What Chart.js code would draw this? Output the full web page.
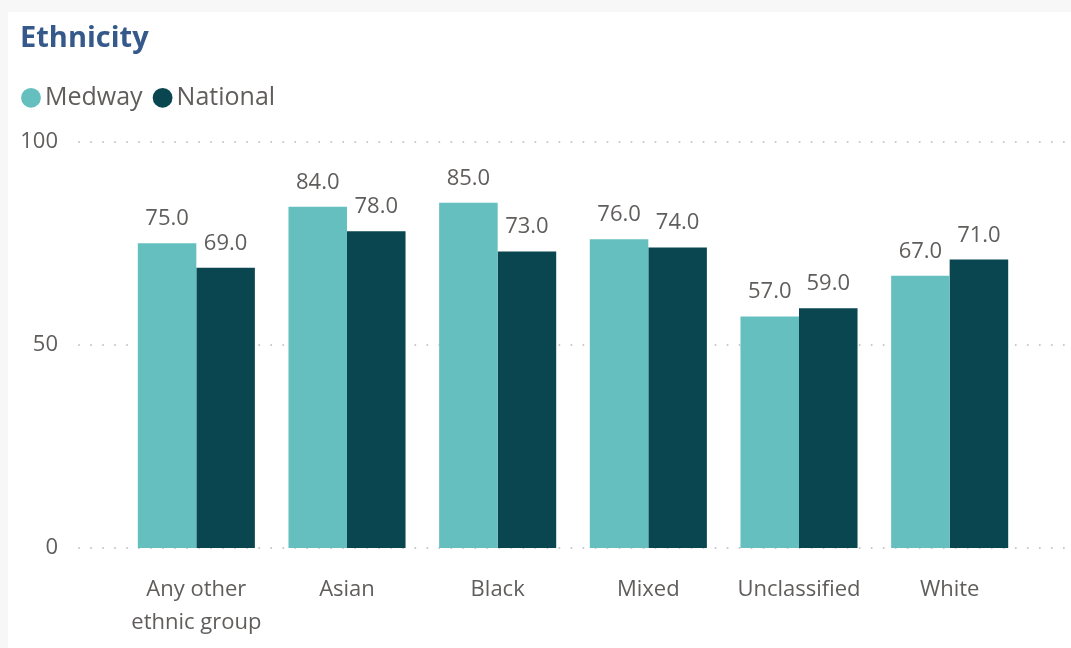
<!DOCTYPE html>
<html>
<head>
<meta charset="utf-8">
<script src="https://cdn.jsdelivr.net/npm/chart.js@4.4.1/dist/chart.umd.min.js"></script>
<style>
  html, body { margin: 0; padding: 0; background: #f7f7f7; width: 1071px; height: 648px; overflow: hidden; }
  #card { position: absolute; left: 8px; top: 12px; width: 1063px; height: 636px; background: #ffffff; }
  #wrap { position: absolute; left: 0; top: 0; width: 1071px; height: 648px; }
</style>
</head>
<body>
<div id="card"></div>
<div id="wrap"><canvas id="c" width="1071" height="648"></canvas></div>
<script>
const categories = [["Any other", "ethnic group"], "Asian", "Black", "Mixed", "Unclassified", "White"];
const medway = [75, 84, 85, 76, 57, 67];
const national = [69, 78, 73, 74, 59, 71];
const yTicks = [0, 50, 100];

const FONT = "'Segoe UI', 'Open Sans', 'Noto Sans', sans-serif";
const TEXT = '#605e5c';

const dottedGrid = {
  id: 'dottedGrid',
  beforeDatasetsDraw(chart) {
    const y = chart.scales.y;
    const ctx = chart.ctx;
    ctx.save();
    ctx.strokeStyle = '#c8c6c4';
    ctx.lineWidth = 2;
    ctx.lineCap = 'round';
    ctx.setLineDash([0.01, 12]);
    yTicks.forEach(v => {
      const py = Math.round(y.getPixelForValue(v));
      ctx.beginPath();
      ctx.moveTo(79, py);
      ctx.lineTo(1068, py);
      ctx.stroke();
    });
    ctx.restore();
  }
};

const valueLabels = {
  id: 'valueLabels',
  afterDatasetsDraw(chart) {
    const ctx = chart.ctx;
    ctx.save();
    ctx.font = '22px ' + FONT;
    ctx.fillStyle = TEXT;
    ctx.textAlign = 'center';
    ctx.textBaseline = 'alphabetic';
    chart.data.datasets.forEach((ds, di) => {
      chart.getDatasetMeta(di).data.forEach((bar, i) => {
        ctx.fillText(ds.data[i].toFixed(1), bar.x, bar.y - 18);
      });
    });
    ctx.restore();
  }
};

// shift legend start so that title and legend share the same left edge
const legendShift = {
  id: 'legendShift',
  beforeDraw(chart) {
    if (chart.legend) chart.legend.left = 11;
  }
};

new Chart(document.getElementById('c'), {
  type: 'bar',
  data: {
    labels: categories,
    datasets: [
      { label: 'Medway', data: medway, backgroundColor: '#66bfbf', categoryPercentage: 0.777, barPercentage: 1.0 },
      { label: 'National', data: national, backgroundColor: '#094650', categoryPercentage: 0.777, barPercentage: 1.0 }
    ]
  },
  options: {
    responsive: false,
    animation: false,
    layout: { padding: { left: 20, right: 46, top: 12, bottom: 0 } },
    plugins: {
      tooltip: { enabled: false },
      title: {
        display: true,
        text: 'Ethnicity',
        align: 'start',
        color: '#34598a',
        font: { family: FONT, size: 29, weight: 'bold' },
        padding: { top: 9, bottom: 11 }
      },
      subtitle: {
        display: true,
        text: '',
        weight: 500,
        font: { family: FONT, size: 10, lineHeight: 1 },
        padding: { top: 11.5, bottom: 0 }
      },
      legend: {
        display: true,
        align: 'start',
        labels: {
          usePointStyle: true,
          pointStyle: 'circle',
          boxWidth: 3,
          boxHeight: 14,
          padding: 18.5,
          color: TEXT,
          font: { family: FONT, size: 25 }
        }
      }
    },
    scales: {
      x: {
        grid: { display: false },
        border: { display: false },
        afterFit(scale) { scale.height = 100; },
        ticks: {
          color: TEXT,
          font: { family: FONT, size: 22, lineHeight: 1.47 },
          padding: 18,
          maxRotation: 0,
          autoSkip: false
        }
      },
      y: {
        min: 0,
        max: 100,
        grid: { display: false },
        border: { display: false },
        afterFit(scale) { scale.width = 101; },
        afterBuildTicks(scale) { scale.ticks = yTicks.map(v => ({ value: v })); },
        ticks: {
          color: TEXT,
          font: { family: FONT, size: 22 },
          padding: 55
        }
      }
    }
  },
  plugins: [dottedGrid, valueLabels, legendShift]
});
</script>
</body>
</html>
